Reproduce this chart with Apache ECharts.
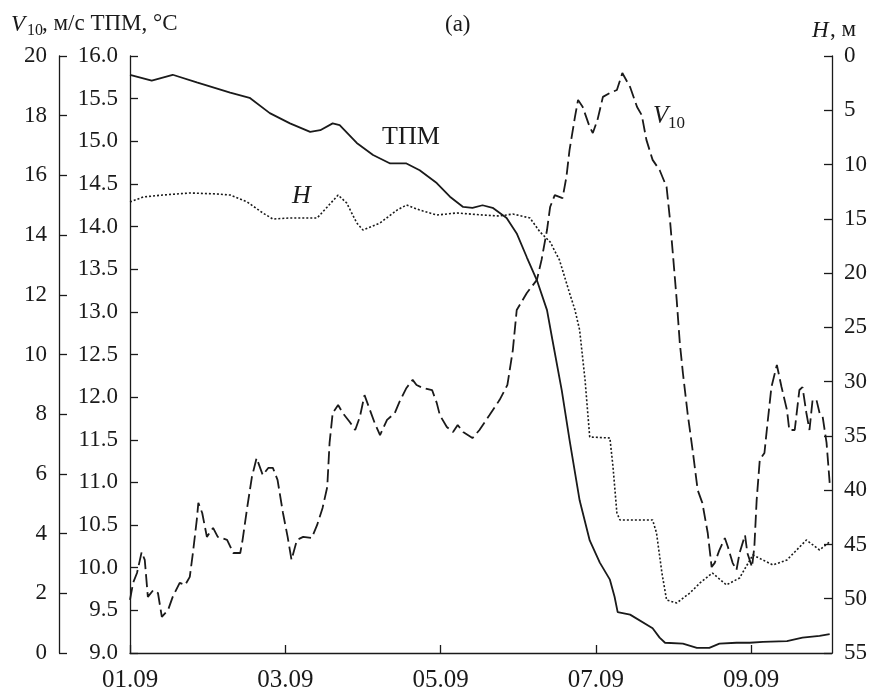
<!DOCTYPE html>
<html>
<head>
<meta charset="utf-8">
<script src="https://cdn.jsdelivr.net/npm/echarts@6/dist/echarts.min.js"></script>
<style>
  html, body { margin: 0; padding: 0; background: #fff; }
  #chart { width: 873px; height: 691px; }
</style>
</head>
<body>
<div id="chart"></div>
<script>
// x is days since 01.09 00:00
var xLabels = ['01.09', '03.09', '05.09', '07.09', '09.09'];

// water temperature, °C (inner left axis)
var tpm = [
  [0, 15.78], [0.28, 15.71], [0.55, 15.78], [0.86, 15.69], [1.29, 15.57], [1.54, 15.51],
  [1.80, 15.33], [2.06, 15.21], [2.32, 15.11], [2.45, 15.13], [2.61, 15.21], [2.70, 15.19],
  [2.92, 14.98], [3.13, 14.84], [3.35, 14.74], [3.56, 14.74], [3.73, 14.66], [3.95, 14.51],
  [4.12, 14.35], [4.29, 14.23], [4.41, 14.22], [4.54, 14.25], [4.67, 14.22], [4.85, 14.10],
  [4.98, 13.92], [5.11, 13.64], [5.24, 13.37], [5.37, 13.02], [5.44, 12.67], [5.56, 12.08],
  [5.66, 11.50], [5.79, 10.79], [5.92, 10.32], [6.05, 10.06], [6.18, 9.86], [6.24, 9.66],
  [6.28, 9.48], [6.44, 9.45], [6.73, 9.29], [6.82, 9.18], [6.89, 9.12], [7.12, 9.11],
  [7.30, 9.06], [7.46, 9.06], [7.59, 9.11], [7.81, 9.12], [7.98, 9.12], [8.15, 9.13],
  [8.46, 9.14], [8.66, 9.18], [8.88, 9.20], [9.01, 9.22]
];

// mixed layer depth H, m (right axis, inverted)
var depth = [
  [0, 13.45], [0.17, 12.99], [0.42, 12.81], [0.77, 12.62], [1.12, 12.71], [1.29, 12.81],
  [1.51, 13.45], [1.71, 14.46], [1.84, 15.02], [2.06, 14.92], [2.41, 14.92], [2.54, 13.91],
  [2.68, 12.81], [2.79, 13.54], [2.92, 15.38], [3.00, 16.03], [3.22, 15.38], [3.44, 14.19],
  [3.56, 13.73], [3.73, 14.19], [3.95, 14.65], [4.21, 14.46], [4.54, 14.65], [4.76, 14.74],
  [4.93, 14.56], [5.15, 14.92], [5.28, 16.21], [5.41, 17.13], [5.53, 18.79], [5.66, 21.83],
  [5.73, 23.40], [5.79, 25.24], [5.86, 29.85], [5.92, 35.10], [6.18, 35.19], [6.22, 37.86],
  [6.27, 42.10], [6.31, 42.75], [6.73, 42.75], [6.78, 43.94], [6.85, 47.63], [6.91, 50.12],
  [7.04, 50.39], [7.21, 49.47], [7.34, 48.55], [7.50, 47.63], [7.68, 48.73], [7.85, 48.09],
  [8.02, 45.97], [8.28, 46.89], [8.46, 46.43], [8.71, 44.59], [8.88, 45.51], [9.01, 44.77]
];

// wind speed V10, m/s (outer left axis)
var wind = [
  [0, 1.78], [0.04, 2.35], [0.09, 2.68], [0.15, 3.38], [0.19, 3.12], [0.23, 1.88],
  [0.30, 2.11], [0.36, 2.01], [0.41, 1.21], [0.42, 1.17], [0.49, 1.44], [0.55, 1.88],
  [0.64, 2.35], [0.71, 2.28], [0.77, 2.55], [0.81, 3.35], [0.86, 4.46], [0.88, 5.03],
  [0.93, 4.69], [0.99, 3.89], [1.07, 4.19], [1.13, 3.89], [1.25, 3.79], [1.33, 3.35],
  [1.42, 3.35], [1.45, 3.79], [1.51, 4.89], [1.57, 5.90], [1.63, 6.53], [1.71, 5.96],
  [1.78, 6.20], [1.84, 6.20], [1.90, 5.80], [1.97, 4.69], [2.03, 3.89], [2.08, 3.12],
  [2.15, 3.79], [2.23, 3.89], [2.34, 3.85], [2.41, 4.29], [2.48, 4.86], [2.54, 5.56],
  [2.57, 7.04], [2.61, 8.04], [2.68, 8.31], [2.74, 8.04], [2.83, 7.74], [2.90, 7.47],
  [2.96, 7.91], [3.02, 8.64], [3.09, 8.14], [3.15, 7.71], [3.22, 7.30], [3.31, 7.81],
  [3.41, 8.04], [3.47, 8.41], [3.56, 8.88], [3.64, 9.15], [3.69, 8.98], [3.77, 8.88],
  [3.89, 8.81], [3.95, 8.38], [3.99, 7.97], [4.08, 7.57], [4.16, 7.40], [4.22, 7.64],
  [4.29, 7.40], [4.41, 7.20], [4.50, 7.47], [4.63, 7.97], [4.76, 8.48], [4.86, 8.98],
  [4.93, 10.15], [4.98, 11.49], [5.11, 12.06], [5.24, 12.50], [5.30, 13.17], [5.37, 14.17],
  [5.41, 14.94], [5.47, 15.34], [5.57, 15.24], [5.62, 15.95], [5.66, 16.85], [5.73, 17.96],
  [5.77, 18.53], [5.83, 18.29], [5.92, 17.62], [5.96, 17.42], [6.02, 17.86], [6.09, 18.63],
  [6.18, 18.76], [6.27, 18.86], [6.34, 19.43], [6.44, 18.96], [6.53, 18.29], [6.59, 18.02],
  [6.65, 17.19], [6.73, 16.52], [6.82, 16.18], [6.91, 15.61], [6.95, 14.61], [6.99, 13.40],
  [7.04, 11.83], [7.08, 10.39], [7.12, 9.38], [7.18, 8.04], [7.25, 6.70], [7.31, 5.46],
  [7.37, 5.03], [7.44, 4.02], [7.49, 2.88], [7.53, 3.02], [7.59, 3.45], [7.66, 3.85],
  [7.70, 3.55], [7.76, 3.02], [7.81, 2.78], [7.85, 3.35], [7.92, 3.95], [7.95, 3.35],
  [8.01, 2.88], [8.04, 3.55], [8.07, 5.13], [8.11, 6.47], [8.17, 6.70], [8.21, 7.71],
  [8.26, 8.91], [8.33, 9.65], [8.39, 8.91], [8.46, 8.14], [8.49, 7.47], [8.56, 7.47],
  [8.62, 8.81], [8.66, 8.91], [8.71, 8.04], [8.75, 7.47], [8.79, 8.48], [8.84, 8.48],
  [8.88, 8.04], [8.92, 7.91], [8.97, 7.04], [9.01, 5.70]
];

var chart = echarts.init(document.getElementById('chart'));
var font = '"Liberation Serif", "DejaVu Serif", serif';
var ink = '#1a1a1a';
var axisLine = { show: true, lineStyle: { color: ink, width: 1.3 } };
var axisTick = { show: true, inside: true, length: 8, lineStyle: { color: ink, width: 1.3 } };
var axisLabel = { color: ink, fontFamily: font, fontSize: 23, margin: 12 };

var option = {
  animation: false,
  grid: { left: 130, right: 41, top: 56, bottom: 38, outerBoundsMode: 'none', containLabel: false },
  xAxis: {
    type: 'value', min: 0, max: 9.04, interval: 2,
    axisLine: axisLine, axisTick: axisTick, splitLine: { show: false },
    axisLabel: {
      color: ink, fontFamily: font, fontSize: 25, margin: 15,
      showMaxLabel: false,
      formatter: function (v) {
        var i = Math.round(v / 2);
        return Math.abs(v - i * 2) < 1e-6 && xLabels[i] ? xLabels[i] : '';
      }
    }
  },
  yAxis: [
    {
      type: 'value', position: 'left', min: 9, max: 16, interval: 0.5,
      axisLine: axisLine, axisTick: axisTick, splitLine: { show: false },
      axisLabel: Object.assign({}, axisLabel, { formatter: function (v) { return v.toFixed(1); } })
    },
    {
      type: 'value', position: 'left', offset: 71, min: 0, max: 20, interval: 2,
      axisLine: axisLine, axisTick: axisTick, splitLine: { show: false },
      axisLabel: axisLabel
    },
    {
      type: 'value', position: 'right', inverse: true, min: 0, max: 55, interval: 5,
      axisLine: axisLine, axisTick: axisTick, splitLine: { show: false },
      axisLabel: Object.assign({}, axisLabel, { margin: 12 })
    }
  ],
  series: [
    {
      name: 'ТПМ', type: 'line', yAxisIndex: 0, data: tpm, showSymbol: false,
      lineStyle: { color: ink, width: 1.8 }
    },
    {
      name: 'H', type: 'line', yAxisIndex: 2, data: depth, showSymbol: false,
      lineStyle: { color: ink, width: 1.6, type: [2, 2] }
    },
    {
      name: 'V10', type: 'line', yAxisIndex: 1, data: wind, showSymbol: false,
      lineStyle: { color: ink, width: 1.8, type: [13, 5] }
    }
  ],
  graphic: [
    { type: 'text', x: 445, y: 13, style: { text: '(a)', font: '23px ' + font, fill: ink } },
    // left axis titles
    { type: 'text', x: 11, y: 13, style: { text: 'V', font: 'italic 23px ' + font, fill: ink } },
    { type: 'text', x: 27, y: 23, style: { text: '10', font: '16px ' + font, fill: ink } },
    { type: 'text', x: 42, y: 12, style: { text: ', м/с ТПМ, °C', font: '23px ' + font, fill: ink } },
    // right axis title
    { type: 'text', x: 812, y: 19, style: { text: 'H', font: 'italic 23px ' + font, fill: ink } },
    { type: 'text', x: 830, y: 18, style: { text: ', м', font: '23px ' + font, fill: ink } },
    // curve labels
    { type: 'text', x: 382, y: 124, style: { text: 'ТПМ', font: '26px ' + font, fill: ink } },
    { type: 'text', x: 292, y: 183, style: { text: 'H', font: 'italic 26px ' + font, fill: ink } },
    { type: 'text', x: 653, y: 104, style: { text: 'V', font: 'italic 25px ' + font, fill: ink } },
    { type: 'text', x: 668, y: 115, style: { text: '10', font: '17px ' + font, fill: ink } }
  ]
};
chart.setOption(option);
</script>
</body>
</html>
